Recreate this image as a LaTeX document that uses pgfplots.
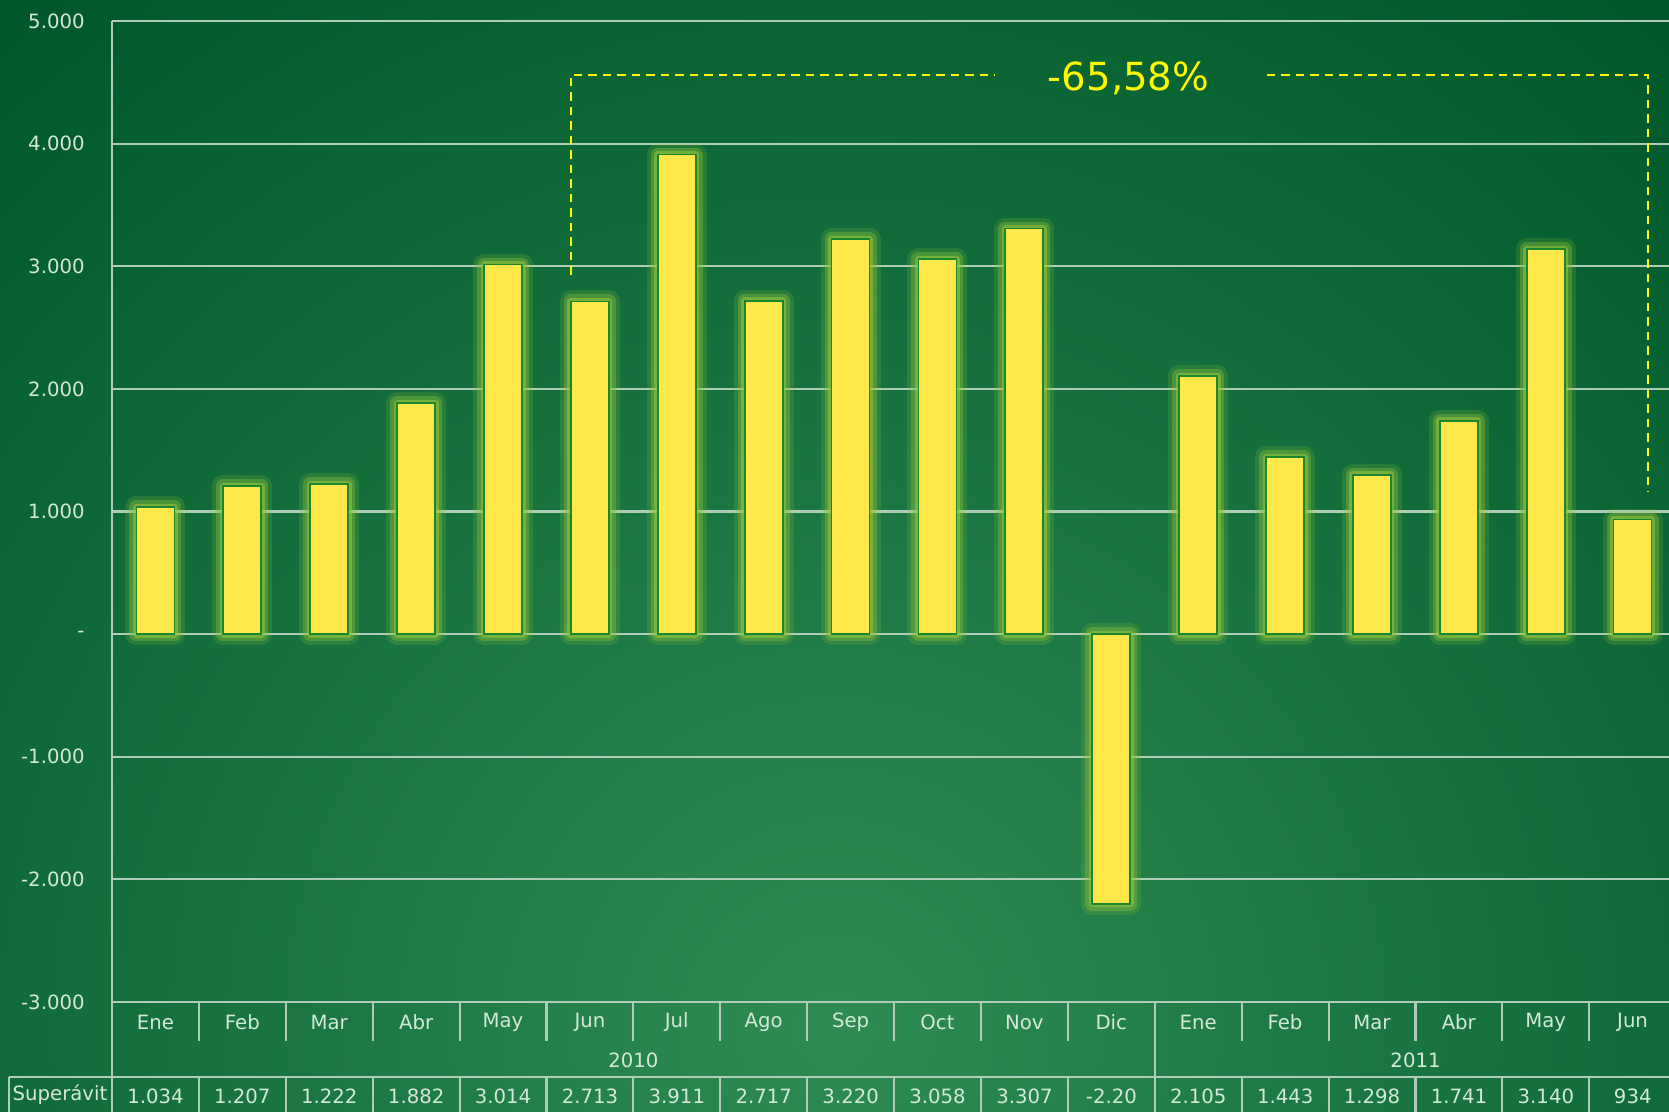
\documentclass[border=0pt]{standalone}
\usepackage{pgfplots}
\pgfplotsset{compat=1.18}
\usepackage{pgfplotstable}
\usepackage{fontspec}
\setmainfont{DejaVu Sans}

\definecolor{bgtop}{RGB}{0,88,42}
\definecolor{bgglow}{RGB}{46,140,82}
\definecolor{gridc}{RGB}{175,205,182}
\definecolor{txt}{RGB}{212,232,214}
\definecolor{baryel}{RGB}{255,232,72}
\definecolor{barline}{RGB}{25,135,45}
\definecolor{glow}{RGB}{145,195,60}
\definecolor{annot}{RGB}{255,250,0}

\newcommand{\lblfont}{\fontsize{5.6}{6.5}\selectfont}

% superavit by month, Jan 2010 - Jun 2011
\pgfplotstableread{
x val
0 1034
1 1207
2 1222
3 1882
4 3014
5 2713
6 3911
7 2717
8 3220
9 3058
10 3307
11 -2200
12 2105
13 1443
14 1298
15 1741
16 3140
17 934
}\datatable

\begin{document}
\begin{tikzpicture}[x=1cm,y=1cm]
% background
\begin{scope}
\clip (0,0) rectangle (16.69,11.12);
\fill[bgtop] (0,0) rectangle (16.69,11.12);
\shade[inner color=bgglow, outer color=bgtop] (-4.65,-12.2) rectangle (21.35,13.8);
\end{scope}

\begin{scope}
\clip (0,0) rectangle (16.69,11.12);
\begin{axis}[
    at={(1.12cm,1.10cm)}, anchor=south west,
    width=15.64cm, height=9.81cm, scale only axis,
    xmin=-0.5, xmax=17.5, ymin=-3000, ymax=5000,
    axis lines*=left,
    axis line style={-, gridc, line width=0.6pt},
    ytick={-3000,-2000,...,5000},
    yticklabels={-3.000,-2.000,-1.000,-,1.000,2.000,3.000,4.000,5.000},
    xtick={0,...,17},
    xticklabels={Ene,Feb,Mar,Abr,May,Jun,Jul,Ago,Sep,Oct,Nov,Dic,Ene,Feb,Mar,Abr,May,Jun},
    major tick length=0pt,
    ymajorgrids, grid style={gridc, line width=0.6pt},
    yticklabel style={font=\lblfont, text=txt, xshift=-0.15cm},
    xticklabel style={font=\lblfont, text=txt, anchor=center, yshift=-0.2cm},
    ybar, bar width=0.38cm,
    clip=false,
]
\addplot[bar shift=0pt, fill=glow, draw=glow, line width=0.22cm, opacity=0.18, line join=round] table[x=x,y=val]{\datatable};
\addplot[bar shift=0pt, fill=glow, draw=glow, line width=0.14cm, opacity=0.35, line join=round] table[x=x,y=val]{\datatable};
\addplot[bar shift=0pt, fill=glow, draw=glow, line width=0.07cm, opacity=0.6, line join=round] table[x=x,y=val]{\datatable};
\addplot[bar shift=0pt, fill=baryel, draw=barline, line width=0.5pt] table[x=x,y=val]{\datatable};

% -65,58% bracket
\draw[annot, line width=0.55pt, dash pattern=on 0.085cm off 0.06cm]
    (axis cs:4.78,2930) -- (axis cs:4.78,4560) -- (axis cs:9.66,4560);
\draw[annot, line width=0.55pt, dash pattern=on 0.085cm off 0.06cm]
    (axis cs:12.79,4560) -- (axis cs:17.18,4560) -- (axis cs:17.18,1160);
\node[annot, font=\fontsize{11}{13}\selectfont] at (axis cs:11.2,4535) {-65,58\%};
\end{axis}
\end{scope}

% category table below the axis
\begin{scope}[gridc, line width=0.6pt]
\draw (1.12,0) -- (1.12,1.10);
\foreach \k in {1,...,11,13,14,15,16,17}
    \draw (1.12+\k*0.869,1.10) -- ++(0,-0.39);
\draw (1.12+12*0.869,1.10) -- (1.12+12*0.869,0);
\draw (0.09,0.35) -- (16.69,0.35);
\draw (0.09,0.35) -- (0.09,0);
\foreach \k in {1,...,17}
    \draw (1.12+\k*0.869,0.35) -- (1.12+\k*0.869,0);
\end{scope}
\node[txt, font=\lblfont] at (1.12+6*0.869,0.52) {2010};
\node[txt, font=\lblfont] at (1.12+15*0.869,0.52) {2011};
\node[txt, font=\lblfont] at (0.60,0.17) {Superávit};
\foreach \v [count=\i from 0] in {1.034,1.207,1.222,1.882,3.014,2.713,3.911,2.717,3.220,3.058,3.307,-2.20,2.105,1.443,1.298,1.741,3.140,934}
    \node[txt, font=\lblfont] at (1.12+\i*0.869+0.4345,0.16) {\v};

\pgfresetboundingbox
\useasboundingbox (0,0) rectangle (16.69,11.12);
\end{tikzpicture}
\end{document}
